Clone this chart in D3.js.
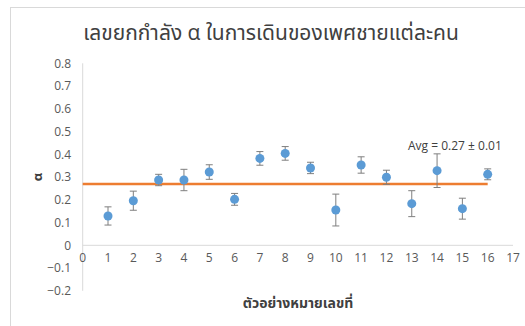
<!DOCTYPE html>
<html><head><meta charset="utf-8">
<script src="https://cdn.jsdelivr.net/npm/d3@7"></script>
<style>
html,body{margin:0;padding:0;background:#fff;}
text{font-family:"Open Sans","Noto Sans Thai","Noto Sans",sans-serif;}
</style></head>
<body><svg id="c" width="525" height="326"></svg>
<script>
const samples = [1,2,3,4,5,6,7,8,9,10,11,12,13,14,15,16];
const alphaValues = [0.129,0.196,0.287,0.287,0.322,0.202,0.382,0.404,0.340,0.155,0.353,0.299,0.183,0.328,0.161,0.312];
const errValues = [0.040,0.042,0.025,0.047,0.032,0.026,0.030,0.030,0.025,0.070,0.036,0.031,0.057,0.074,0.046,0.024];
const avgValue = 0.27;
const avgRange = [0,16];
const xTicks = d3.range(0,18);
const yTicks = [-0.2,-0.1,0,0.1,0.2,0.3,0.4,0.5,0.6,0.7,0.8];
const title = "เลขยกกำลัง α ในการเดินของเพศชายแต่ละคน";
const xTitle = "ตัวอย่างหมายเลขที่";
const yTitle = "α";
const avgLabel = "Avg = 0.27 ± 0.01";

const svg = d3.select("#c");
svg.append("rect").attr("x",10.5).attr("y",7.5).attr("width",530).attr("height",330)
  .attr("fill","#fff").attr("stroke","#d9d9d9");

const x = d3.scaleLinear().domain([0,17]).range([82.7,513]);
const y = d3.scaleLinear().domain([-0.2,0.8]).range([290.8,63.3]);

// axes lines
svg.append("line").attr("x1",x(0)).attr("x2",x(0)).attr("y1",y(-0.2)).attr("y2",y(0.8))
  .attr("stroke","#d9d9d9").attr("stroke-width",1);
svg.append("line").attr("x1",x(0)).attr("x2",x(17)).attr("y1",y(0)).attr("y2",y(0))
  .attr("stroke","#d9d9d9").attr("stroke-width",1);

svg.append("g").selectAll("text").data(yTicks).join("text")
  .attr("x",71).attr("y",d=>y(d)).attr("dy","0.35em").attr("text-anchor","end")
  .attr("font-size",12).attr("fill","#595959").text(d=>d3.format("")(+d.toFixed(1)));

svg.append("g").selectAll("text").data(xTicks).join("text")
  .attr("x",d=>x(d)).attr("y",y(0)+17).attr("text-anchor","middle")
  .attr("font-size",12).attr("fill","#595959").text(d=>d);

// avg line
svg.append("line").attr("x1",x(avgRange[0])).attr("x2",x(avgRange[1]))
  .attr("y1",y(avgValue)).attr("y2",y(avgValue)).attr("stroke","#ED7D31").attr("stroke-width",2.5);

// error bars
const eb = svg.append("g").attr("stroke","#7f7f7f").attr("stroke-width",1);
samples.forEach((s,i)=>{
  const cx = x(s), top = y(alphaValues[i]+errValues[i]), bot = y(alphaValues[i]-errValues[i]);
  eb.append("line").attr("x1",cx).attr("x2",cx).attr("y1",top).attr("y2",bot);
  eb.append("line").attr("x1",cx-3.5).attr("x2",cx+3.5).attr("y1",top).attr("y2",top);
  eb.append("line").attr("x1",cx-3.5).attr("x2",cx+3.5).attr("y1",bot).attr("y2",bot);
});

svg.append("g").selectAll("circle").data(samples).join("circle")
  .attr("cx",d=>x(d)).attr("cy",(d,i)=>y(alphaValues[i])).attr("r",4.5).attr("fill","#5B9BD5");

svg.append("text").attr("x",408).attr("y",146).attr("dy","0.35em").attr("font-size",12)
  .attr("fill","#404040").text(avgLabel);

svg.append("text").attr("x",271).attr("y",33).attr("dy","0.35em").attr("text-anchor","middle")
  .attr("font-size",21).attr("fill","#404040").text(title);

svg.append("text").attr("x",298).attr("y",303).attr("dy","0.35em").attr("text-anchor","middle")
  .attr("font-size",14).attr("font-weight","bold").attr("fill","#404040").text(xTitle);

svg.append("text").attr("transform",`translate(37,${y(0.3)}) rotate(-90)`).attr("dy","0.35em")
  .attr("text-anchor","middle").attr("font-size",13).attr("font-weight","bold").attr("fill","#404040").text(yTitle);
</script></body></html>
